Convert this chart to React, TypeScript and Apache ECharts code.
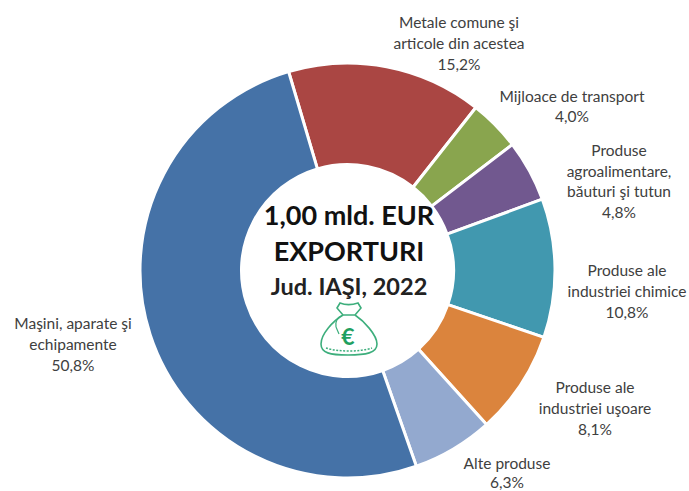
import React, { useEffect, useRef } from "react";
import * as echarts from "echarts";

const categories = [
  "Metale comune şi\narticole din acestea",
  "Mijloace de transport",
  "Produse\nagroalimentare,\nbăuturi şi tutun",
  "Produse ale\nindustriei chimice",
  "Produse ale\nindustriei uşoare",
  "Alte produse",
  "Maşini, aparate şi\nechipamente",
];
const values = [15.2, 4.0, 4.8, 10.8, 8.1, 6.3, 50.8];
const colors = ["#AA4643", "#89A54E", "#71588F", "#4198AF", "#DB843D", "#93A9CF", "#4572A7"];
const labelCentres = [
  [459, 43],
  [572, 106],
  [619, 181],
  [627, 291],
  [595, 408],
  [507, 472.5],
  [73, 344],
];
const centreLines = ["1,00 mld. EUR", "EXPORTURI", "Jud. IAŞI, 2022"];

const bagPath =
  "M20 1 C25 3 32 3 38 1 L41 6 L35 13 C44 19 57 33 57 42 C57 51 46 53 28 53 C10 53 1 51 1 42 C1 32 13 19 23 13 L17 6 Z M23 13 L35 13";
const beadPath = "M6 46 C18 50 40 50 52 46";
const tiePath = "M23 13 C18 15 15 19 16 25 M16 25 L19 32";

export default function App() {
  const ref = useRef<HTMLDivElement>(null);
  useEffect(() => {
    document.body.style.margin = "0";
    document.body.style.background = "#fff";
    echarts.graphic.registerShape("bag", echarts.graphic.extendPath(bagPath, {}));
    echarts.graphic.registerShape("bead", echarts.graphic.extendPath(beadPath, {}));
    echarts.graphic.registerShape("tie", echarts.graphic.extendPath(tiePath, {}));
    const chart = echarts.init(ref.current!, undefined, { renderer: "svg" });
    const font = "Lato, Carlito, sans-serif";
    chart.setOption({
      animation: false,
      backgroundColor: "#fff",
      series: [
        {
          type: "pie",
          center: [347.5, 270.5],
          radius: [106, 207.5],
          startAngle: 106.5,
          clockwise: true,
          silent: true,
          itemStyle: { borderColor: "#fff", borderWidth: 3 },
          labelLine: { show: false },
          label: {
            show: true,
            position: "outside",
            formatter: (p: any) => `${p.name}\n${p.value.toFixed(1).replace(".", ",")}%`,
            fontFamily: font,
            fontSize: 15.5,
            lineHeight: 20.7,
            color: "#404040",
            align: "center",
            verticalAlign: "middle",
            width: 220,
            overflow: "none",
          },
          labelLayout: (p: any) => ({
            x: labelCentres[p.dataIndex][0],
            y: labelCentres[p.dataIndex][1],
            align: "center",
            verticalAlign: "middle",
          }),
          data: categories.map((name, i) => ({
            name,
            value: values[i],
            itemStyle: { color: colors[i] },
            label: name === "Alte produse" ? { lineHeight: 18.5 } : undefined,
          })),
        },
      ],
      graphic: [
        { type: "text", z: 10, x: 349, y: 214, style: { text: centreLines[0], fontFamily: font, fontWeight: "bold", fontSize: 27, fill: "#111", textAlign: "center", textVerticalAlign: "middle" } },
        { type: "text", z: 10, x: 349, y: 250, style: { text: centreLines[1], fontFamily: font, fontWeight: "bold", fontSize: 27, fill: "#111", textAlign: "center", textVerticalAlign: "middle" } },
        { type: "text", z: 10, x: 349, y: 286, style: { text: centreLines[2], fontFamily: font, fontWeight: "bold", fontSize: 23.5, fill: "#222", textAlign: "center", textVerticalAlign: "middle" } },
        { type: "bag", z: 10, x: 320, y: 302, style: { fill: "#fff", stroke: "#3DAE7C", lineWidth: 1.6 } },
        { type: "bead", z: 10, x: 320, y: 302, style: { fill: "none", stroke: "#3DAE7C", lineWidth: 1.5, lineDash: [2, 1.5] } },
        { type: "tie", z: 10, x: 320, y: 302, style: { fill: "none", stroke: "#3DAE7C", lineWidth: 1.2 } },
        { type: "text", z: 10, x: 348, y: 336, style: { text: "€", fontFamily: font, fontWeight: "bold", fontSize: 23, fill: "#1FA060", textAlign: "center", textVerticalAlign: "middle" } },
      ],
    });
    return () => chart.dispose();
  }, []);
  return <div ref={ref} style={{ width: 689, height: 491 }} />;
}
